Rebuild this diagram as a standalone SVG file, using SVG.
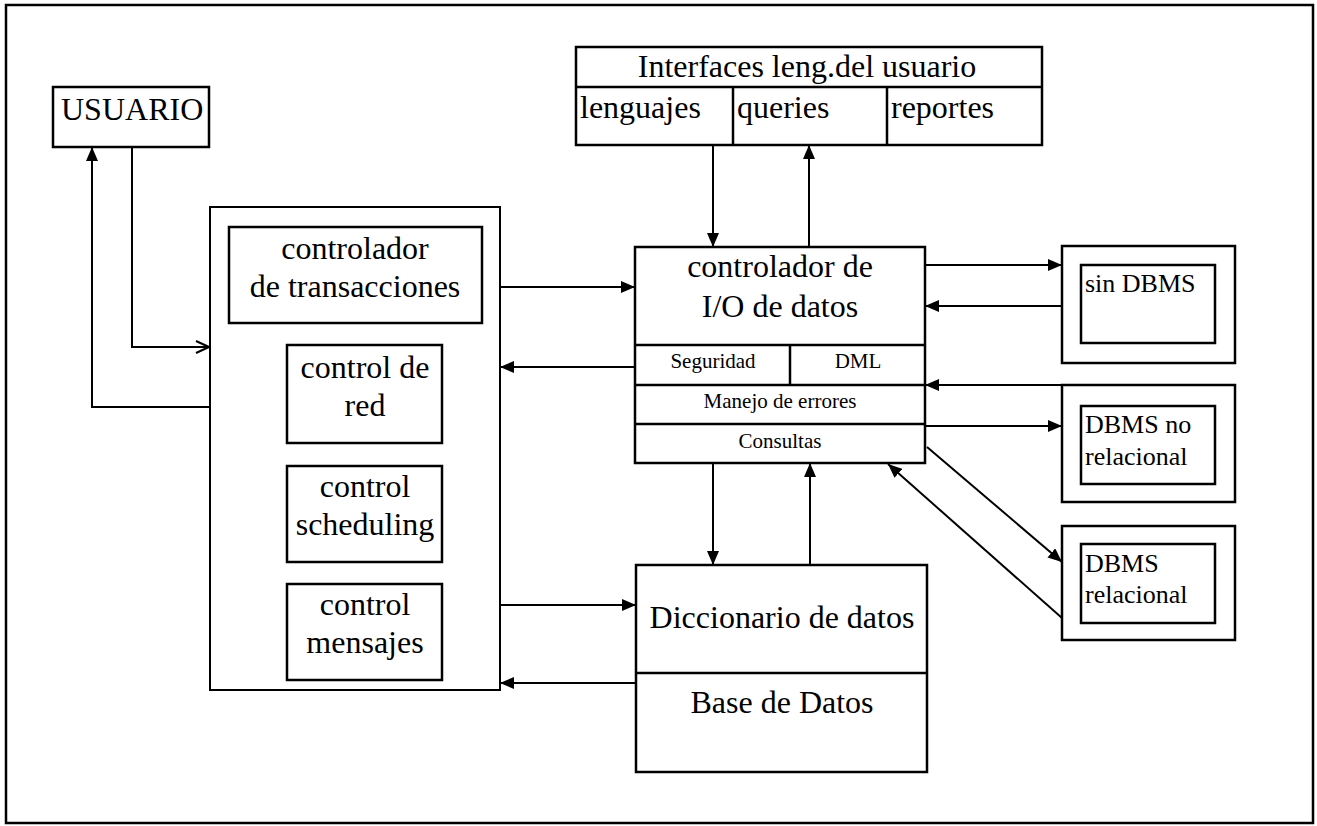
<svg xmlns="http://www.w3.org/2000/svg" width="1317" height="826" viewBox="0 0 1317 826">
<style>
.b{fill:#fff;stroke:#000;stroke-width:2.5}
.l{fill:none;stroke:#000;stroke-width:2.5}
.t{font-family:"Liberation Serif","Times New Roman",serif;fill:#000;font-size:32px}
.c{text-anchor:middle}
.s{font-size:21px}
.m{font-size:26px}
.a{fill:none;stroke:#000;stroke-width:2}
</style>
<defs>
<marker id="ah" markerUnits="userSpaceOnUse" markerWidth="16" markerHeight="12" refX="14" refY="6" orient="auto">
<path d="M0,0 L14,6 L0,12 Z" fill="#000"/>
</marker>
<marker id="oh" markerUnits="userSpaceOnUse" markerWidth="16" markerHeight="14" refX="14" refY="7" orient="auto">
<path d="M1,1 L14,7 L1,13" fill="none" stroke="#000" stroke-width="2"/>
</marker>
</defs>
<rect x="0" y="0" width="1317" height="826" fill="#fff"/>
<rect id="frame" x="6" y="5" width="1307" height="818" class="l"/>

<g id="usuario">
<rect x="53" y="87" width="156" height="60" class="b"/>
<text x="61" y="120" class="t">USUARIO</text>
</g>

<g id="contenedor">
<rect x="210" y="207" width="290" height="483" fill="#fff" stroke="#000" stroke-width="2"/>
</g>
<g id="transacciones">
<rect x="229" y="227" width="253" height="96" class="b"/>
<text x="355" y="259" class="t c">controlador</text>
<text x="355" y="297" class="t c">de transacciones</text>
</g>
<g id="red">
<rect x="287" y="345" width="155" height="98" class="b"/>
<text x="365" y="378" class="t c">control de</text>
<text x="365" y="416" class="t c">red</text>
</g>
<g id="scheduling">
<rect x="287" y="466" width="155" height="96" class="b"/>
<text x="365" y="497" class="t c">control</text>
<text x="365" y="535" class="t c">scheduling</text>
</g>
<g id="mensajes">
<rect x="287" y="584" width="155" height="96" class="b"/>
<text x="365" y="615" class="t c">control</text>
<text x="365" y="653" class="t c">mensajes</text>
</g>

<g id="interfaces">
<rect x="576" y="47" width="466" height="98" class="b"/>
<line x1="576" y1="87" x2="1042" y2="87" class="l" stroke-width="3"/>
<line x1="733" y1="87" x2="733" y2="145" class="l"/>
<line x1="887" y1="87" x2="887" y2="145" class="l"/>
<text x="807" y="77" class="t c">Interfaces leng.del usuario</text>
<text x="580" y="118" class="t">lenguajes</text>
<text x="737" y="118" class="t">queries</text>
<text x="891" y="118" class="t">reportes</text>
</g>

<g id="controlador-io">
<rect x="635" y="247" width="290" height="216" class="b"/>
<line x1="635" y1="345" x2="925" y2="345" class="l" stroke-width="3.5"/>
<line x1="635" y1="385" x2="925" y2="385" class="l" stroke-width="3"/>
<line x1="635" y1="424" x2="925" y2="424" class="l" stroke-width="3"/>
<line x1="790" y1="345" x2="790" y2="385" class="l"/>
<text x="780" y="277" class="t c">controlador de</text>
<text x="780" y="317" class="t c">I/O de datos</text>
<text x="713" y="368" class="t c s">Seguridad</text>
<text x="858" y="368" class="t c s">DML</text>
<text x="780" y="408" class="t c s">Manejo de errores</text>
<text x="780" y="448" class="t c s">Consultas</text>
</g>

<g id="diccionario">
<rect x="636" y="565" width="291" height="207" class="b"/>
<line x1="636" y1="673" x2="927" y2="673" class="l" stroke-width="3.5"/>
<text x="782" y="628" class="t c">Diccionario de datos</text>
<text x="782" y="713" class="t c">Base de Datos</text>
</g>

<g id="sin-dbms">
<rect x="1062" y="246" width="173" height="117" class="b"/>
<rect x="1081" y="265" width="134" height="78" class="b" stroke-width="2"/>
<text x="1085" y="292" class="t m">sin DBMS</text>
</g>
<g id="dbms-no-relacional">
<rect x="1062" y="385" width="173" height="117" class="b"/>
<rect x="1081" y="406" width="134" height="78" class="b" stroke-width="2"/>
<text x="1085" y="433" class="t m">DBMS no</text>
<text x="1085" y="465" class="t m">relacional</text>
</g>
<g id="dbms-relacional">
<rect x="1062" y="526" width="173" height="114" class="b"/>
<rect x="1081" y="544" width="134" height="79" class="b" stroke-width="2"/>
<text x="1085" y="572" class="t m">DBMS</text>
<text x="1085" y="603" class="t m">relacional</text>
</g>

<g id="connectors">
<path d="M210,407 H92 V147" class="a" marker-end="url(#ah)"/>
<path d="M132,147 V347 H209" class="a" marker-end="url(#oh)"/>
<path d="M500,287 H635" class="a" marker-end="url(#ah)"/>
<path d="M635,367 H500" class="a" marker-end="url(#ah)"/>
<path d="M500,605 H636" class="a" marker-end="url(#ah)"/>
<path d="M636,683 H500" class="a" marker-end="url(#ah)"/>
<path d="M713,145 V247" class="a" marker-end="url(#ah)"/>
<path d="M809,247 V145" class="a" marker-end="url(#ah)"/>
<path d="M713,463 V565" class="a" marker-end="url(#ah)"/>
<path d="M810,565 V463" class="a" marker-end="url(#ah)"/>
<path d="M925,265 H1062" class="a" marker-end="url(#ah)"/>
<path d="M1062,306 H925" class="a" marker-end="url(#ah)"/>
<path d="M1062,385 H925" class="a" marker-end="url(#ah)"/>
<path d="M925,426 H1062" class="a" marker-end="url(#ah)"/>
<path d="M927,447 L1062,562" class="a" marker-end="url(#ah)"/>
<path d="M1062,618 L888,464" class="a" marker-end="url(#ah)"/>
</g>
</svg>
